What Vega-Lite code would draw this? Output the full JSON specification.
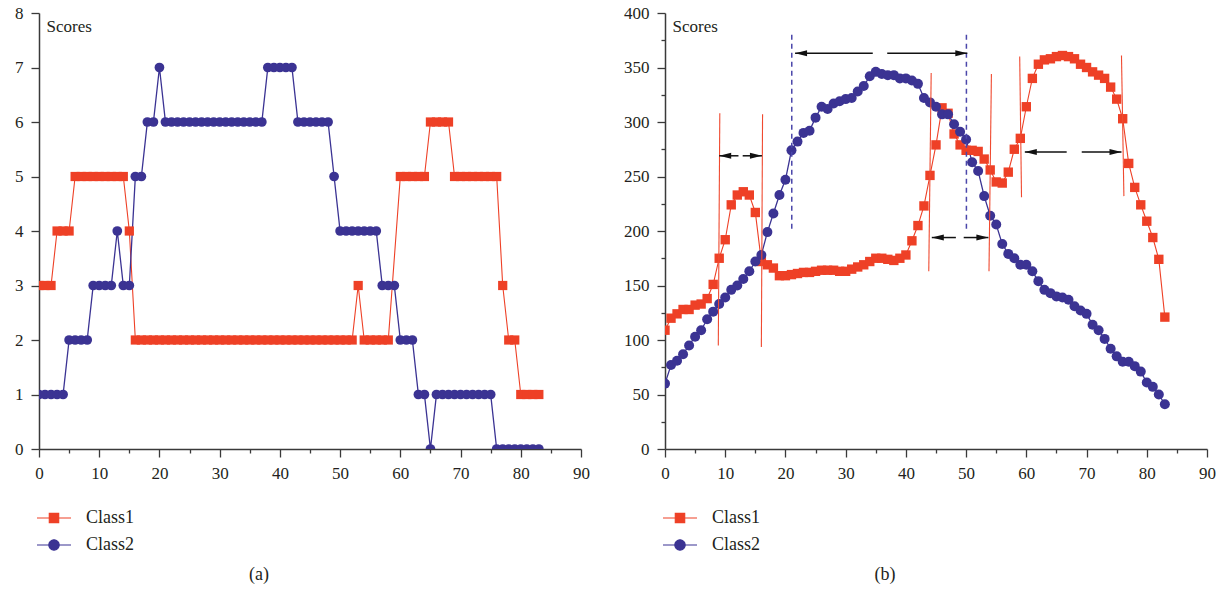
{
  "$schema": "https://vega.github.io/schema/vega-lite/v6.json",
  "autosize": {"type": "pad"},
  "padding": {"left": 14, "top": 4, "right": 5, "bottom": 0},
  "background": "white",
  "resolve": {"scale": {"color": "independent", "stroke": "independent", "shape": "independent"}, "legend": {"color": "independent", "stroke": "independent", "shape": "independent"}},
  "config": {
    "view": {"stroke": null},
    "font": "Liberation Serif, DejaVu Serif, serif",
    "axis": {
      "grid": false,
      "domainColor": "#3a3a3a",
      "domainWidth": 1.5,
      "tickColor": "#3a3a3a",
      "tickWidth": 1.3,
      "labelFont": "Liberation Serif, DejaVu Serif, serif",
      "labelFontSize": 17,
      "labelColor": "#231f20",
      "titleFont": "Liberation Serif, DejaVu Serif, serif",
      "titleFontSize": 17,
      "titleFontWeight": "normal",
      "titleColor": "#231f20"
    },
    "legend": {
      "orient": "none",
      "legendX": 1,
      "legendY": 491,
      "padding": 0,
      "title": null,
      "labelFont": "Liberation Serif, DejaVu Serif, serif",
      "labelFontSize": 18,
      "labelColor": "#231f20",
      "symbolSize": 676,
      "symbolStrokeWidth": 1.2,
      "symbolOpacity": 1,
      "labelOffset": 18,
      "rowPadding": 4
    },
    "title": {"font": "Liberation Serif, DejaVu Serif, serif", "fontSize": 18, "fontWeight": "normal", "color": "#231f20"}
  },
  "spacing": 33,
  "datasets": {
    "a": [
      {"x":0,"v":3,"s":"Class1"},{"x":1,"v":3,"s":"Class1"},{"x":2,"v":3,"s":"Class1"},{"x":3,"v":4,"s":"Class1"},{"x":4,"v":4,"s":"Class1"},{"x":5,"v":4,"s":"Class1"},
      {"x":6,"v":5,"s":"Class1"},{"x":7,"v":5,"s":"Class1"},{"x":8,"v":5,"s":"Class1"},{"x":9,"v":5,"s":"Class1"},{"x":10,"v":5,"s":"Class1"},{"x":11,"v":5,"s":"Class1"},{"x":12,"v":5,"s":"Class1"},{"x":13,"v":5,"s":"Class1"},{"x":14,"v":5,"s":"Class1"},
      {"x":15,"v":4,"s":"Class1"},
      {"x":16,"v":2,"s":"Class1"},{"x":17,"v":2,"s":"Class1"},{"x":18,"v":2,"s":"Class1"},{"x":19,"v":2,"s":"Class1"},{"x":20,"v":2,"s":"Class1"},{"x":21,"v":2,"s":"Class1"},{"x":22,"v":2,"s":"Class1"},{"x":23,"v":2,"s":"Class1"},{"x":24,"v":2,"s":"Class1"},{"x":25,"v":2,"s":"Class1"},{"x":26,"v":2,"s":"Class1"},{"x":27,"v":2,"s":"Class1"},{"x":28,"v":2,"s":"Class1"},{"x":29,"v":2,"s":"Class1"},{"x":30,"v":2,"s":"Class1"},{"x":31,"v":2,"s":"Class1"},{"x":32,"v":2,"s":"Class1"},{"x":33,"v":2,"s":"Class1"},{"x":34,"v":2,"s":"Class1"},{"x":35,"v":2,"s":"Class1"},{"x":36,"v":2,"s":"Class1"},{"x":37,"v":2,"s":"Class1"},{"x":38,"v":2,"s":"Class1"},{"x":39,"v":2,"s":"Class1"},{"x":40,"v":2,"s":"Class1"},{"x":41,"v":2,"s":"Class1"},{"x":42,"v":2,"s":"Class1"},{"x":43,"v":2,"s":"Class1"},{"x":44,"v":2,"s":"Class1"},{"x":45,"v":2,"s":"Class1"},{"x":46,"v":2,"s":"Class1"},{"x":47,"v":2,"s":"Class1"},{"x":48,"v":2,"s":"Class1"},{"x":49,"v":2,"s":"Class1"},{"x":50,"v":2,"s":"Class1"},{"x":51,"v":2,"s":"Class1"},{"x":52,"v":2,"s":"Class1"},
      {"x":53,"v":3,"s":"Class1"},
      {"x":54,"v":2,"s":"Class1"},{"x":55,"v":2,"s":"Class1"},{"x":56,"v":2,"s":"Class1"},{"x":57,"v":2,"s":"Class1"},{"x":58,"v":2,"s":"Class1"},
      {"x":60,"v":5,"s":"Class1"},{"x":61,"v":5,"s":"Class1"},{"x":62,"v":5,"s":"Class1"},{"x":63,"v":5,"s":"Class1"},{"x":64,"v":5,"s":"Class1"},
      {"x":65,"v":6,"s":"Class1"},{"x":66,"v":6,"s":"Class1"},{"x":67,"v":6,"s":"Class1"},{"x":68,"v":6,"s":"Class1"},
      {"x":69,"v":5,"s":"Class1"},{"x":70,"v":5,"s":"Class1"},{"x":71,"v":5,"s":"Class1"},{"x":72,"v":5,"s":"Class1"},{"x":73,"v":5,"s":"Class1"},{"x":74,"v":5,"s":"Class1"},{"x":75,"v":5,"s":"Class1"},{"x":76,"v":5,"s":"Class1"},
      {"x":77,"v":3,"s":"Class1"},{"x":78,"v":2,"s":"Class1"},{"x":79,"v":2,"s":"Class1"},
      {"x":80,"v":1,"s":"Class1"},{"x":81,"v":1,"s":"Class1"},{"x":82,"v":1,"s":"Class1"},{"x":83,"v":1,"s":"Class1"},
      {"x":0,"v":1,"s":"Class2"},{"x":1,"v":1,"s":"Class2"},{"x":2,"v":1,"s":"Class2"},{"x":3,"v":1,"s":"Class2"},{"x":4,"v":1,"s":"Class2"},
      {"x":5,"v":2,"s":"Class2"},{"x":6,"v":2,"s":"Class2"},{"x":7,"v":2,"s":"Class2"},{"x":8,"v":2,"s":"Class2"},
      {"x":9,"v":3,"s":"Class2"},{"x":10,"v":3,"s":"Class2"},{"x":11,"v":3,"s":"Class2"},{"x":12,"v":3,"s":"Class2"},
      {"x":13,"v":4,"s":"Class2"},{"x":14,"v":3,"s":"Class2"},{"x":15,"v":3,"s":"Class2"},
      {"x":16,"v":5,"s":"Class2"},{"x":17,"v":5,"s":"Class2"},{"x":18,"v":6,"s":"Class2"},{"x":19,"v":6,"s":"Class2"},{"x":20,"v":7,"s":"Class2"},
      {"x":21,"v":6,"s":"Class2"},{"x":22,"v":6,"s":"Class2"},{"x":23,"v":6,"s":"Class2"},{"x":24,"v":6,"s":"Class2"},{"x":25,"v":6,"s":"Class2"},{"x":26,"v":6,"s":"Class2"},{"x":27,"v":6,"s":"Class2"},{"x":28,"v":6,"s":"Class2"},{"x":29,"v":6,"s":"Class2"},{"x":30,"v":6,"s":"Class2"},{"x":31,"v":6,"s":"Class2"},{"x":32,"v":6,"s":"Class2"},{"x":33,"v":6,"s":"Class2"},{"x":34,"v":6,"s":"Class2"},{"x":35,"v":6,"s":"Class2"},{"x":36,"v":6,"s":"Class2"},{"x":37,"v":6,"s":"Class2"},
      {"x":38,"v":7,"s":"Class2"},{"x":39,"v":7,"s":"Class2"},{"x":40,"v":7,"s":"Class2"},{"x":41,"v":7,"s":"Class2"},{"x":42,"v":7,"s":"Class2"},
      {"x":43,"v":6,"s":"Class2"},{"x":44,"v":6,"s":"Class2"},{"x":45,"v":6,"s":"Class2"},{"x":46,"v":6,"s":"Class2"},{"x":47,"v":6,"s":"Class2"},{"x":48,"v":6,"s":"Class2"},
      {"x":49,"v":5,"s":"Class2"},
      {"x":50,"v":4,"s":"Class2"},{"x":51,"v":4,"s":"Class2"},{"x":52,"v":4,"s":"Class2"},{"x":53,"v":4,"s":"Class2"},{"x":54,"v":4,"s":"Class2"},{"x":55,"v":4,"s":"Class2"},{"x":56,"v":4,"s":"Class2"},
      {"x":57,"v":3,"s":"Class2"},{"x":58,"v":3,"s":"Class2"},{"x":59,"v":3,"s":"Class2"},
      {"x":60,"v":2,"s":"Class2"},{"x":61,"v":2,"s":"Class2"},{"x":62,"v":2,"s":"Class2"},
      {"x":63,"v":1,"s":"Class2"},{"x":64,"v":1,"s":"Class2"},{"x":65,"v":0,"s":"Class2"},
      {"x":66,"v":1,"s":"Class2"},{"x":67,"v":1,"s":"Class2"},{"x":68,"v":1,"s":"Class2"},{"x":69,"v":1,"s":"Class2"},{"x":70,"v":1,"s":"Class2"},{"x":71,"v":1,"s":"Class2"},{"x":72,"v":1,"s":"Class2"},{"x":73,"v":1,"s":"Class2"},{"x":74,"v":1,"s":"Class2"},{"x":75,"v":1,"s":"Class2"},
      {"x":76,"v":0,"s":"Class2"},{"x":77,"v":0,"s":"Class2"},{"x":78,"v":0,"s":"Class2"},{"x":79,"v":0,"s":"Class2"},{"x":80,"v":0,"s":"Class2"},{"x":81,"v":0,"s":"Class2"},{"x":82,"v":0,"s":"Class2"},{"x":83,"v":0,"s":"Class2"}
    ],
    "b": [
      {"x":0,"v":109,"s":"Class1"},{"x":1,"v":120,"s":"Class1"},{"x":2,"v":124,"s":"Class1"},{"x":3,"v":128,"s":"Class1"},{"x":4,"v":128,"s":"Class1"},{"x":5,"v":132,"s":"Class1"},{"x":6,"v":133,"s":"Class1"},{"x":7,"v":138,"s":"Class1"},{"x":8,"v":151,"s":"Class1"},{"x":9,"v":175,"s":"Class1"},
      {"x":10,"v":192,"s":"Class1"},{"x":11,"v":224,"s":"Class1"},{"x":12,"v":233,"s":"Class1"},{"x":13,"v":236,"s":"Class1"},{"x":14,"v":233,"s":"Class1"},{"x":15,"v":217,"s":"Class1"},{"x":16,"v":172,"s":"Class1"},{"x":17,"v":169,"s":"Class1"},{"x":18,"v":166,"s":"Class1"},{"x":19,"v":159,"s":"Class1"},
      {"x":20,"v":159,"s":"Class1"},{"x":21,"v":160,"s":"Class1"},{"x":22,"v":161,"s":"Class1"},{"x":23,"v":162,"s":"Class1"},{"x":24,"v":162,"s":"Class1"},{"x":25,"v":163,"s":"Class1"},{"x":26,"v":164,"s":"Class1"},{"x":27,"v":164,"s":"Class1"},{"x":28,"v":164,"s":"Class1"},{"x":29,"v":163,"s":"Class1"},
      {"x":30,"v":163,"s":"Class1"},{"x":31,"v":165,"s":"Class1"},{"x":32,"v":167,"s":"Class1"},{"x":33,"v":169,"s":"Class1"},{"x":34,"v":172,"s":"Class1"},{"x":35,"v":175,"s":"Class1"},{"x":36,"v":175,"s":"Class1"},{"x":37,"v":174,"s":"Class1"},{"x":38,"v":173,"s":"Class1"},{"x":39,"v":175,"s":"Class1"},
      {"x":40,"v":178,"s":"Class1"},{"x":41,"v":191,"s":"Class1"},{"x":42,"v":205,"s":"Class1"},{"x":43,"v":223,"s":"Class1"},{"x":44,"v":251,"s":"Class1"},{"x":45,"v":279,"s":"Class1"},{"x":46,"v":313,"s":"Class1"},{"x":47,"v":308,"s":"Class1"},{"x":48,"v":289,"s":"Class1"},{"x":49,"v":279,"s":"Class1"},
      {"x":50,"v":274,"s":"Class1"},{"x":51,"v":274,"s":"Class1"},{"x":52,"v":273,"s":"Class1"},{"x":53,"v":266,"s":"Class1"},{"x":54,"v":256,"s":"Class1"},{"x":55,"v":245,"s":"Class1"},{"x":56,"v":244,"s":"Class1"},{"x":57,"v":254,"s":"Class1"},{"x":58,"v":275,"s":"Class1"},{"x":59,"v":285,"s":"Class1"},
      {"x":60,"v":314,"s":"Class1"},{"x":61,"v":340,"s":"Class1"},{"x":62,"v":353,"s":"Class1"},{"x":63,"v":357,"s":"Class1"},{"x":64,"v":358,"s":"Class1"},{"x":65,"v":360,"s":"Class1"},{"x":66,"v":361,"s":"Class1"},{"x":67,"v":360,"s":"Class1"},{"x":68,"v":358,"s":"Class1"},{"x":69,"v":353,"s":"Class1"},
      {"x":70,"v":350,"s":"Class1"},{"x":71,"v":346,"s":"Class1"},{"x":72,"v":343,"s":"Class1"},{"x":73,"v":340,"s":"Class1"},{"x":74,"v":332,"s":"Class1"},{"x":75,"v":321,"s":"Class1"},{"x":76,"v":303,"s":"Class1"},{"x":77,"v":262,"s":"Class1"},{"x":78,"v":240,"s":"Class1"},{"x":79,"v":224,"s":"Class1"},
      {"x":80,"v":209,"s":"Class1"},{"x":81,"v":194,"s":"Class1"},{"x":82,"v":174,"s":"Class1"},{"x":83,"v":121,"s":"Class1"},
      {"x":0,"v":60,"s":"Class2"},{"x":1,"v":77,"s":"Class2"},{"x":2,"v":81,"s":"Class2"},{"x":3,"v":87,"s":"Class2"},{"x":4,"v":95,"s":"Class2"},{"x":5,"v":103,"s":"Class2"},{"x":6,"v":109,"s":"Class2"},{"x":7,"v":119,"s":"Class2"},{"x":8,"v":126,"s":"Class2"},{"x":9,"v":133,"s":"Class2"},
      {"x":10,"v":139,"s":"Class2"},{"x":11,"v":146,"s":"Class2"},{"x":12,"v":150,"s":"Class2"},{"x":13,"v":156,"s":"Class2"},{"x":14,"v":163,"s":"Class2"},{"x":15,"v":172,"s":"Class2"},{"x":16,"v":178,"s":"Class2"},{"x":17,"v":199,"s":"Class2"},{"x":18,"v":216,"s":"Class2"},{"x":19,"v":233,"s":"Class2"},
      {"x":20,"v":247,"s":"Class2"},{"x":21,"v":274,"s":"Class2"},{"x":22,"v":282,"s":"Class2"},{"x":23,"v":290,"s":"Class2"},{"x":24,"v":292,"s":"Class2"},{"x":25,"v":304,"s":"Class2"},{"x":26,"v":314,"s":"Class2"},{"x":27,"v":312,"s":"Class2"},{"x":28,"v":317,"s":"Class2"},{"x":29,"v":319,"s":"Class2"},
      {"x":30,"v":321,"s":"Class2"},{"x":31,"v":322,"s":"Class2"},{"x":32,"v":328,"s":"Class2"},{"x":33,"v":333,"s":"Class2"},{"x":34,"v":342,"s":"Class2"},{"x":35,"v":346,"s":"Class2"},{"x":36,"v":344,"s":"Class2"},{"x":37,"v":343,"s":"Class2"},{"x":38,"v":343,"s":"Class2"},{"x":39,"v":340,"s":"Class2"},
      {"x":40,"v":340,"s":"Class2"},{"x":41,"v":338,"s":"Class2"},{"x":42,"v":335,"s":"Class2"},{"x":43,"v":322,"s":"Class2"},{"x":44,"v":318,"s":"Class2"},{"x":45,"v":314,"s":"Class2"},{"x":46,"v":307,"s":"Class2"},{"x":47,"v":307,"s":"Class2"},{"x":48,"v":298,"s":"Class2"},{"x":49,"v":291,"s":"Class2"},
      {"x":50,"v":284,"s":"Class2"},{"x":51,"v":263,"s":"Class2"},{"x":52,"v":255,"s":"Class2"},{"x":53,"v":232,"s":"Class2"},{"x":54,"v":214,"s":"Class2"},{"x":55,"v":206,"s":"Class2"},{"x":56,"v":188,"s":"Class2"},{"x":57,"v":179,"s":"Class2"},{"x":58,"v":175,"s":"Class2"},{"x":59,"v":169,"s":"Class2"},
      {"x":60,"v":169,"s":"Class2"},{"x":61,"v":163,"s":"Class2"},{"x":62,"v":154,"s":"Class2"},{"x":63,"v":146,"s":"Class2"},{"x":64,"v":143,"s":"Class2"},{"x":65,"v":140,"s":"Class2"},{"x":66,"v":139,"s":"Class2"},{"x":67,"v":137,"s":"Class2"},{"x":68,"v":131,"s":"Class2"},{"x":69,"v":127,"s":"Class2"},
      {"x":70,"v":124,"s":"Class2"},{"x":71,"v":114,"s":"Class2"},{"x":72,"v":109,"s":"Class2"},{"x":73,"v":101,"s":"Class2"},{"x":74,"v":92,"s":"Class2"},{"x":75,"v":85,"s":"Class2"},{"x":76,"v":80,"s":"Class2"},{"x":77,"v":80,"s":"Class2"},{"x":78,"v":76,"s":"Class2"},{"x":79,"v":71,"s":"Class2"},
      {"x":80,"v":61,"s":"Class2"},{"x":81,"v":57,"s":"Class2"},{"x":82,"v":50,"s":"Class2"},{"x":83,"v":41,"s":"Class2"}
    ],
    "redLines": [
      {"x":9.1,"x2":8.85,"v":308,"v2":95},
      {"x":16.2,"x2":16.0,"v":307,"v2":93.5},
      {"x":44.2,"x2":43.8,"v":345,"v2":163},
      {"x":54.2,"x2":53.8,"v":344,"v2":163},
      {"x":58.9,"x2":59.2,"v":360,"v2":231},
      {"x":75.8,"x2":76.2,"v":361,"v2":232}
    ],
    "blueLines": [
      {"x":21.05,"v":380,"v2":201},
      {"x":50.05,"v":380,"v2":199}
    ],
    "segs": [
      {"x":9.0,"x2":12.2,"v":269},{"x":12.9,"x2":16.1,"v":269},
      {"x":21.6,"x2":34.5,"v":363},{"x":36.9,"x2":50.2,"v":363},
      {"x":44.3,"x2":48.3,"v":194},{"x":49.6,"x2":53.7,"v":194},
      {"x":59.75,"x2":66.7,"v":272.5},{"x":69.2,"x2":75.8,"v":272.5}
    ],
    "heads": [
      {"x":9.0,"v":269,"d":"L"},{"x":16.1,"v":269,"d":"R"},
      {"x":21.6,"v":363,"d":"L"},{"x":50.2,"v":363,"d":"R"},
      {"x":44.3,"v":194,"d":"L"},{"x":53.7,"v":194,"d":"R"},
      {"x":59.75,"v":272.5,"d":"L"},{"x":75.8,"v":272.5,"d":"R"}
    ]
  },
  "hconcat": [
    {
      "width": 542,
      "height": 436,
      "title": {"text": "(a)", "orient": "bottom", "anchor": "middle", "dx": -51, "offset": 12},
      "data": {"name": "a"},
      "encoding": {
        "x": {"field": "x", "type": "quantitative", "title": null,
              "scale": {"domain": [0, 90], "nice": false, "zero": false},
              "axis": {"values": [0,5,10,15,20,25,30,35,40,45,50,55,60,65,70,75,80,85,90],
                       "labelExpr": "datum.value % 10 === 0 ? datum.label : ''",
                       "tickSize": {"condition": {"test": "datum.value % 10 === 0", "value": 8}, "value": 4},
                       "labelPadding": 8, "labelFlush": false}},
        "y": {"field": "v", "type": "quantitative",
              "scale": {"domain": [0, 8], "nice": false},
              "axis": {"values": [0,0.5,1,1.5,2,2.5,3,3.5,4,4.5,5,5.5,6,6.5,7,7.5,8],
                       "format": "d",
                       "labelExpr": "datum.value % 1 === 0 ? datum.label : ''",
                       "tickSize": {"condition": {"test": "datum.value % 1 === 0", "value": 8}, "value": 4},
                       "labelPadding": 8,
                       "title": "Scores", "titleAngle": 0, "titleAlign": "left", "titleBaseline": "middle", "titleX": 7, "titleY": 13}}
      },
      "layer": [
        {"transform": [{"filter": "datum.s === 'Class1'"}],
         "mark": {"type": "line", "strokeWidth": 1.1, "color": "#ee4026", "clip": true}},
        {"transform": [{"filter": "datum.s === 'Class2'"}],
         "mark": {"type": "line", "strokeWidth": 1.3, "color": "#3b3393", "clip": true}},
        {"transform": [{"filter": "datum.s === 'Class1'"}],
         "mark": {"type": "point", "shape": "square", "filled": true, "size": 85, "opacity": 1, "color": "#ee4026", "clip": true}},
        {"transform": [{"filter": "datum.s === 'Class2'"}],
         "mark": {"type": "point", "shape": "circle", "filled": true, "size": 95, "opacity": 1, "color": "#3b3393", "clip": true}},
        {"transform": [{"filter": "datum.x < -100"}],
         "mark": {"type": "point", "filled": true, "opacity": 1, "strokeWidth": 1.2},
         "encoding": {
           "color": {"field": "s", "type": "nominal",
                     "scale": {"domain": ["Class1", "Class2"], "range": ["#ee4026", "#3b3393"]}},
           "stroke": {"field": "s", "type": "nominal",
                      "scale": {"domain": ["Class1", "Class2"], "range": ["#ee4026", "#3b3393"]}},
           "shape": {"field": "s", "type": "nominal",
                     "scale": {"domain": ["Class1", "Class2"], "range": ["M-1.31,0H1.31M-0.36,-0.36H0.36V0.36H-0.36Z", "M-1.31,0H-0.4A0.4,0.4,0,1,1,0.4,0H1.31M0.4,0A0.4,0.4,0,1,1,-0.4,0"]}}
         }}
      ]
    },
    {
      "width": 542,
      "height": 436,
      "title": {"text": "(b)", "orient": "bottom", "anchor": "middle", "dx": -51, "offset": 12},
      "encoding": {
        "x": {"field": "x", "type": "quantitative", "title": null,
              "scale": {"domain": [0, 90], "nice": false, "zero": false},
              "axis": {"values": [0,5,10,15,20,25,30,35,40,45,50,55,60,65,70,75,80,85,90],
                       "labelExpr": "datum.value % 10 === 0 ? datum.label : ''",
                       "tickSize": {"condition": {"test": "datum.value % 10 === 0", "value": 8}, "value": 4},
                       "labelPadding": 8, "labelFlush": false}},
        "y": {"field": "v", "type": "quantitative",
              "scale": {"domain": [0, 400], "nice": false},
              "axis": {"values": [0,25,50,75,100,125,150,175,200,225,250,275,300,325,350,375,400],
                       "labelExpr": "datum.value % 50 === 0 ? datum.label : ''",
                       "tickSize": {"condition": {"test": "datum.value % 50 === 0", "value": 8}, "value": 4},
                       "labelPadding": 8,
                       "title": "Scores", "titleAngle": 0, "titleAlign": "left", "titleBaseline": "middle", "titleX": 7, "titleY": 13}}
      },
      "layer": [
        {"data": {"name": "b"}, "transform": [{"filter": "datum.s === 'Class1'"}],
         "mark": {"type": "line", "strokeWidth": 1.1, "color": "#ee4026", "clip": true}},
        {"data": {"name": "b"}, "transform": [{"filter": "datum.s === 'Class2'"}],
         "mark": {"type": "line", "strokeWidth": 1.3, "color": "#3b3393", "clip": true}},
        {"data": {"name": "b"}, "transform": [{"filter": "datum.s === 'Class1'"}],
         "mark": {"type": "point", "shape": "square", "filled": true, "size": 88, "opacity": 1, "color": "#ee4026", "clip": true}},
        {"data": {"name": "b"}, "transform": [{"filter": "datum.s === 'Class2'"}],
         "mark": {"type": "point", "shape": "circle", "filled": true, "size": 100, "opacity": 1, "color": "#3b3393", "clip": true}},
        {"data": {"name": "b"}, "transform": [{"filter": "datum.x < -100"}],
         "mark": {"type": "point", "filled": true, "opacity": 1, "strokeWidth": 1.2},
         "encoding": {
           "color": {"field": "s", "type": "nominal",
                     "scale": {"domain": ["Class1", "Class2"], "range": ["#ee4026", "#3b3393"]}},
           "stroke": {"field": "s", "type": "nominal",
                      "scale": {"domain": ["Class1", "Class2"], "range": ["#ee4026", "#3b3393"]}},
           "shape": {"field": "s", "type": "nominal",
                     "scale": {"domain": ["Class1", "Class2"], "range": ["M-1.31,0H1.31M-0.36,-0.36H0.36V0.36H-0.36Z", "M-1.31,0H-0.4A0.4,0.4,0,1,1,0.4,0H1.31M0.4,0A0.4,0.4,0,1,1,-0.4,0"]}}
         }},
        {
          "data": {"name": "redLines"},
          "mark": {"type": "rule", "color": "#f04a30", "strokeWidth": 1.1},
          "encoding": {
            "x": {"field": "x", "type": "quantitative"},
            "x2": {"field": "x2"},
            "y": {"field": "v", "type": "quantitative"},
            "y2": {"field": "v2"}
          }
        },
        {
          "data": {"name": "blueLines"},
          "mark": {"type": "rule", "color": "#4b47aa", "strokeWidth": 1.5, "strokeDash": [5, 4]},
          "encoding": {
            "x": {"field": "x", "type": "quantitative"},
            "y": {"field": "v", "type": "quantitative"},
            "y2": {"field": "v2"}
          }
        },
        {
          "data": {"name": "segs"},
          "mark": {"type": "rule", "color": "#111111", "strokeWidth": 1.5},
          "encoding": {
            "x": {"field": "x", "type": "quantitative"},
            "x2": {"field": "x2"},
            "y": {"field": "v", "type": "quantitative"}
          }
        },
        {
          "data": {"name": "heads"},
          "transform": [{"filter": "datum.d === 'L'"}],
          "mark": {"type": "point", "shape": "M0,0L2,-0.5L2,0.5Z", "filled": true, "color": "#111111", "size": 144, "opacity": 1},
          "encoding": {
            "x": {"field": "x", "type": "quantitative"},
            "y": {"field": "v", "type": "quantitative"}
          }
        },
        {
          "data": {"name": "heads"},
          "transform": [{"filter": "datum.d === 'R'"}],
          "mark": {"type": "point", "shape": "M0,0L-2,-0.5L-2,0.5Z", "filled": true, "color": "#111111", "size": 144, "opacity": 1},
          "encoding": {
            "x": {"field": "x", "type": "quantitative"},
            "y": {"field": "v", "type": "quantitative"}
          }
        }
      ]
    }
  ]
}
